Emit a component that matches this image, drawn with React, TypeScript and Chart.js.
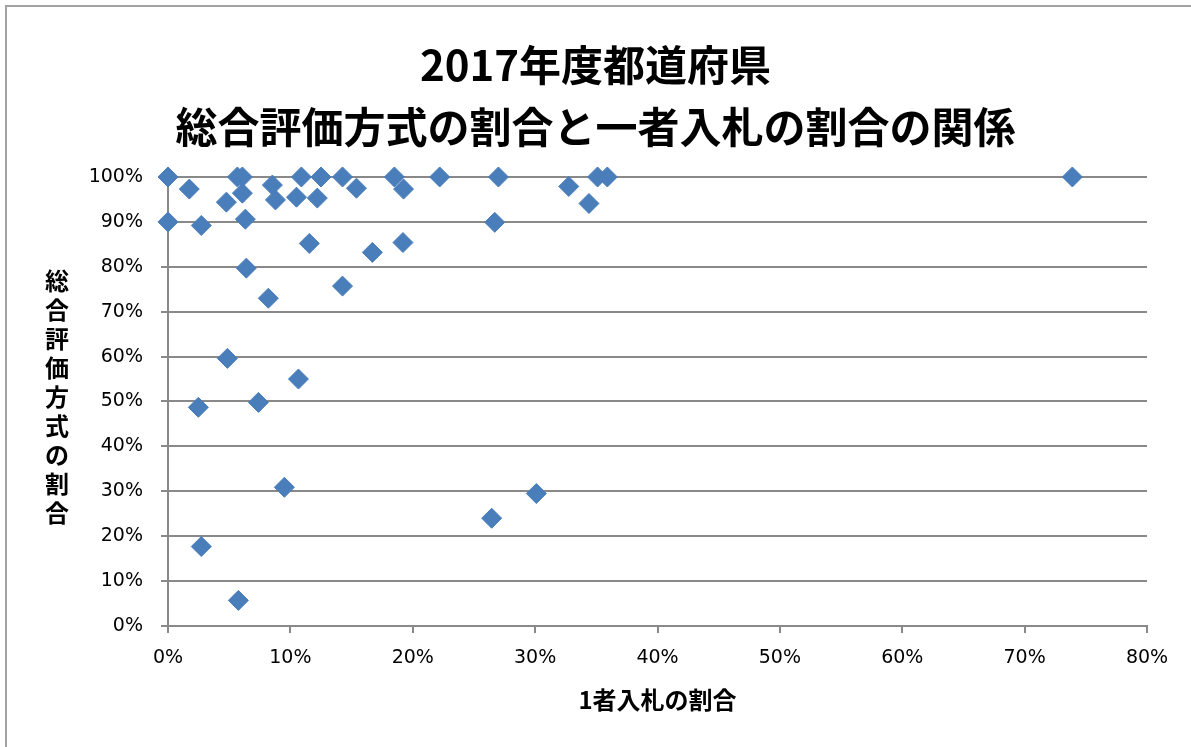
import React, { useEffect, useRef } from "react";
import { Chart, registerables } from "chart.js";

Chart.register(...registerables);

const titleLines = ["2017年度都道府県", "総合評価方式の割合と一者入札の割合の関係"];
const xAxisTitle = "1者入札の割合";
const yAxisTitle = "総合評価方式の割合";

// share of single-bidder tenders (%)
const singleBidShare = [
  0, 0, 1.74, 2.72, 2.48, 2.72, 4.77, 4.85, 5.67, 6.08, 6.08, 6.32, 6.4, 5.75,
  7.39, 8.2, 8.53, 8.78, 9.51, 10.5, 10.66, 10.9, 11.55, 12.2, 12.5, 14.26,
  14.26, 15.4, 16.7, 18.5, 19.25, 19.2, 22.2, 26.45, 26.7, 27.0, 30.1, 32.75,
  34.4, 35.1, 35.9, 73.9,
];
// share of comprehensive-evaluation tenders (%)
const evalShare = [
  100, 90, 97.3, 89.2, 48.7, 17.7, 94.4, 59.6, 100, 100, 96.4, 90.6, 79.7, 5.7,
  49.8, 73.0, 98.2, 94.9, 30.9, 95.5, 55.0, 100, 85.2, 95.3, 100, 100, 75.7,
  97.5, 83.2, 100, 97.3, 85.4, 100, 24.0, 89.9, 100, 29.5, 97.9, 94.1, 100,
  100, 100,
];

const xTicks = [0, 10, 20, 30, 40, 50, 60, 70, 80];
const yTicks = [0, 10, 20, 30, 40, 50, 60, 70, 80, 90, 100];

const GRAY = "#898989";
const BLUE = "#4a7ebb";
const TICK_FONT = { family: "'DejaVu Sans'", size: 19 };

const framePlugin = {
  id: "frame",
  beforeDraw(chart: any) {
    const ctx = chart.ctx;
    ctx.save();
    ctx.fillStyle = "#ffffff";
    ctx.fillRect(0, 0, chart.width, chart.height);
    ctx.strokeStyle = "#a3a3a3";
    ctx.lineWidth = 2;
    ctx.beginPath();
    ctx.moveTo(6, chart.height);
    ctx.lineTo(6, 6);
    ctx.lineTo(chart.width, 6);
    ctx.stroke();
    ctx.restore();
  },
};

const verticalTitlePlugin = {
  id: "verticalTitle",
  afterDraw(chart: any) {
    const ctx = chart.ctx;
    const area = chart.chartArea;
    const chars = Array.from(yAxisTitle);
    const step = 29;
    const cy = (area.top + area.bottom) / 2 - 5;
    const start = cy - ((chars.length - 1) * step) / 2;
    ctx.save();
    ctx.fillStyle = "#000000";
    ctx.font = "bold 24px 'Noto Sans CJK JP'";
    ctx.textAlign = "center";
    ctx.textBaseline = "middle";
    chars.forEach((c, i) => {
      ctx.fillText(c, 57, start + i * step);
    });
    ctx.restore();
  },
};

export default function App() {
  const ref = useRef<HTMLCanvasElement | null>(null);

  useEffect(() => {
    document.body.style.margin = "0";
    const canvas = ref.current;
    if (!canvas) return;
    const points = singleBidShare.map((x, i) => ({ x, y: evalShare[i] }));
    const chart = new Chart(canvas, {
      type: "scatter",
      data: {
        datasets: [
          {
            data: points,
            clip: false,
            pointStyle: "rectRot",
            pointRadius: 10,
            pointBackgroundColor: BLUE,
            pointBorderColor: BLUE,
            pointBorderWidth: 1,
          },
        ],
      },
      options: {
        responsive: false,
        animation: false,
        layout: { padding: 0 },
        plugins: {
          legend: { display: false },
          tooltip: { enabled: false },
          title: {
            display: true,
            text: titleLines,
            color: "#000000",
            font: { family: "'Noto Sans CJK JP'", size: 42, weight: "bold", lineHeight: 1.476 },
            padding: { top: 34, bottom: 19 },
          },
        },
        scales: {
          x: {
            type: "linear",
            min: 0,
            max: 80,
            afterFit: (s: any) => {
              s.height = 121;
            },
            afterBuildTicks: (s: any) => {
              s.ticks = xTicks.map((v) => ({ value: v }));
            },
            ticks: {
              color: "#000000",
              font: TICK_FONT,
              padding: 14,
              callback: (v: any) => `${v}%`,
            },
            grid: {
              drawOnChartArea: false,
              drawTicks: true,
              tickLength: 7,
              color: GRAY,
              lineWidth: 2,
            },
            border: { display: true, color: GRAY, width: 2 },
            title: {
              display: true,
              text: xAxisTitle,
              color: "#000000",
              font: { family: "'Noto Sans CJK JP'", size: 24, weight: "bold" },
              padding: { top: 0, bottom: 33 },
            },
          },
          y: {
            type: "linear",
            min: 0,
            max: 100,
            afterFit: (s: any) => {
              s.width = 168;
            },
            afterBuildTicks: (s: any) => {
              s.ticks = yTicks.map((v) => ({ value: v }));
            },
            ticks: {
              color: "#000000",
              font: TICK_FONT,
              padding: 18,
              callback: (v: any) => `${v}%`,
            },
            grid: {
              drawOnChartArea: true,
              drawTicks: true,
              tickLength: 7,
              color: GRAY,
              lineWidth: 2,
            },
            border: { display: true, color: GRAY, width: 2 },
          },
          yRight: {
            type: "linear",
            position: "right",
            display: true,
            min: 0,
            max: 100,
            afterFit: (s: any) => {
              s.width = 44;
            },
            ticks: { display: false },
            grid: { display: false, drawTicks: false },
            border: { display: false },
          },
        },
      },
      plugins: [framePlugin, verticalTitlePlugin],
    });
    return () => chart.destroy();
  }, []);

  return (
    <div style={{ width: 1191, height: 747, position: "relative" }}>
      <canvas ref={ref} width={1191} height={747} style={{ display: "block" }} />
    </div>
  );
}
